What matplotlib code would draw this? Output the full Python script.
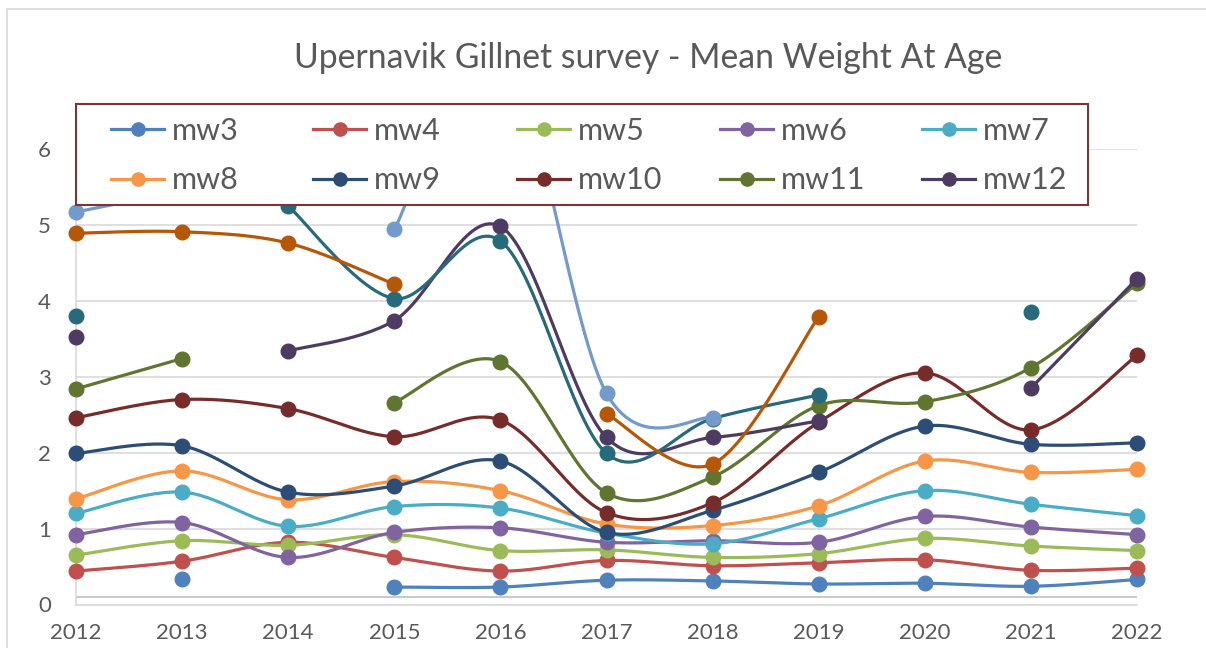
import numpy as np
import matplotlib
matplotlib.use("Agg")
import matplotlib.pyplot as plt
from matplotlib.patches import Rectangle
from matplotlib.lines import Line2D

years = list(range(2012, 2023))

mw3 = [None, 0.34, None, 0.23, 0.23, 0.32, 0.31, 0.27, 0.28, 0.24, 0.33]
mw4 = [0.44, 0.57, 0.82, 0.62, 0.44, 0.58, 0.51, 0.55, 0.59, 0.45, 0.48]
mw5 = [0.65, 0.84, 0.78, 0.92, 0.71, 0.72, 0.62, 0.67, 0.87, 0.77, 0.71]
mw6 = [0.92, 1.08, 0.62, 0.95, 1.01, 0.82, 0.84, 0.82, 1.16, 1.02, 0.92]
mw7 = [1.20, 1.48, 1.03, 1.29, 1.27, 0.94, 0.80, 1.13, 1.50, 1.32, 1.17]
mw8 = [1.39, 1.76, 1.38, 1.62, 1.50, 1.06, 1.04, 1.30, 1.89, 1.74, 1.78]
mw9 = [1.99, 2.09, 1.48, 1.56, 1.89, 0.95, 1.24, 1.74, 2.35, 2.11, 2.13]
mw10 = [2.46, 2.70, 2.58, 2.21, 2.43, 1.21, 1.34, 2.40, 3.05, 2.30, 3.28]
mw11 = [2.84, 3.24, None, 2.66, 3.20, 1.47, 1.68, 2.62, 2.67, 3.12, 4.23]
mw12 = [3.53, None, 3.34, 3.74, 4.98, 2.20, 2.20, 2.42, None, 2.85, 4.29]
# these three are on the chart but their legend entries were removed
mw13 = [3.80, None, 5.25, 4.03, 4.79, 1.99, 2.45, 2.76, None, 3.85, None]
mw14 = [4.89, 4.91, 4.76, 4.22, None, 2.51, 1.85, 3.79, None, None, None]
mw15 = [5.17, 5.45, None, 4.94, 7.40, 2.78, 2.46, None, None, None, None]

names = ["mw3", "mw4", "mw5", "mw6", "mw7", "mw8", "mw9", "mw10", "mw11", "mw12",
         "mw13", "mw14", "mw15"]
series = [mw3, mw4, mw5, mw6, mw7, mw8, mw9, mw10, mw11, mw12, mw13, mw14, mw15]
colors = ["#4F81BD", "#C0504D", "#9BBB59", "#8064A2", "#4BACC6", "#F79646",
          "#2C4D75", "#772C2A", "#5F7530", "#4D3B62", "#276A7C", "#B65708", "#729ACA"]

plt.rcParams['font.family'] = ['Lato', 'DejaVu Sans']
TXT = "#595959"
GRID = "#D9D9D9"


# Excel style smoothed line: one cubic bezier per segment, catmull-rom handles
def smooth_run(xs, ys, n=30):
    xs = np.asarray(xs, float)
    ys = np.asarray(ys, float)
    out_x, out_y = [], []
    t = np.linspace(0, 1, n)
    last = len(xs) - 1
    for i in range(last):
        i0, i3 = max(i - 1, 0), min(i + 2, last)
        p0 = np.array([xs[i0], ys[i0]])
        p1 = np.array([xs[i], ys[i]])
        p2 = np.array([xs[i + 1], ys[i + 1]])
        p3 = np.array([xs[i3], ys[i3]])
        c1 = p1 + (p2 - p0) / 6
        c2 = p2 - (p3 - p1) / 6
        b = ((1 - t) ** 3)[:, None] * p1 + (3 * (1 - t) ** 2 * t)[:, None] * c1 \
            + (3 * (1 - t) * t ** 2)[:, None] * c2 + (t ** 3)[:, None] * p2
        out_x.extend(b[:, 0])
        out_y.extend(b[:, 1])
    return out_x, out_y


# split a series at the missing years
def runs(xs, vals):
    cur = []
    for x, v in zip(xs, vals):
        if v is None:
            if cur:
                yield cur
            cur = []
        else:
            cur.append((x, v))
    if cur:
        yield cur


fig = plt.figure(figsize=(12.06, 6.48), dpi=100)
W, H = 1206, 648
ax = fig.add_axes([76 / W, (H - 604.5) / H, 1061 / W, (604.5 - 149) / H])

# let markers at the edge years show, but cut lines above the top of the plot
clip = Rectangle((-0.05, -0.2), 1.1, 1.2, transform=ax.transAxes, visible=False)
ax.add_patch(clip)

for k, (vals, col) in enumerate(zip(series, colors)):
    z = 3 + k * 0.01
    for run in runs(years, vals):
        rx = [p[0] for p in run]
        ry = [p[1] for p in run]
        if len(run) > 1:
            sx, sy = smooth_run(rx, ry)
            ln, = ax.plot(sx, sy, color=col, lw=2.3, zorder=z, solid_capstyle='round')
            ln.set_clip_path(clip)
        mk, = ax.plot(rx, ry, 'o', color=col, ms=10.5, zorder=z)
        mk.set_clip_path(clip)

ax.set_xlim(2012, 2022)
ax.set_ylim(0, 6)
ax.set_xticks(years)
ax.set_yticks(range(0, 7))
ax.tick_params(length=0, labelsize=16, colors=TXT)
ax.tick_params(axis='x', pad=13)
ax.tick_params(axis='y', pad=18)
ax.yaxis.grid(True, color=GRID, lw=1.2, zorder=0)
ax.set_axisbelow(True)
for s in ["top", "right"]:
    ax.spines[s].set_visible(False)
ax.spines["left"].set_color(GRID)
ax.spines["bottom"].set_color(GRID)
ax.spines["left"].set_linewidth(1.2)
ax.spines["bottom"].set_linewidth(1.2)
ax.axhline(0.1, color="#BFBFBF", lw=1.2, zorder=1)

fig.text(648 / W, 1 - 58 / H, "Upernavik Gillnet survey - Mean Weight At Age",
         ha='center', va='center', fontsize=24.3, color=TXT)

# outer chart border
fig.patches.append(Rectangle((7 / W, -0.05), 1.2, 1 - 9 / H + 0.05, transform=fig.transFigure,
                             fill=False, ec=GRID, lw=1.2))

# legend box, row-major like excel, 5 equally spaced columns
fig.patches.append(Rectangle((76 / W, 1 - 205 / H), (1088 - 76) / W, 101 / H,
                             transform=fig.transFigure, fc="white", ec="#7F3333",
                             lw=1.5, zorder=10))
col_x = [111, 313, 517, 720, 922]
for c in range(5):
    items = [c, c + 5]
    handles = [Line2D([], [], color=colors[i], lw=2.3, marker='o', ms=9.5) for i in items]
    leg = fig.legend(handles, [names[i] for i in items], loc='upper left',
                     bbox_to_anchor=(col_x[c] / W, 1 - 117 / H), frameon=False,
                     fontsize=22, labelcolor=TXT, handlelength=1.75, handletextpad=0.25,
                     borderpad=0, borderaxespad=0, labelspacing=0.7)
    leg.set_zorder(11)

fig.savefig("out.png", dpi=100)
